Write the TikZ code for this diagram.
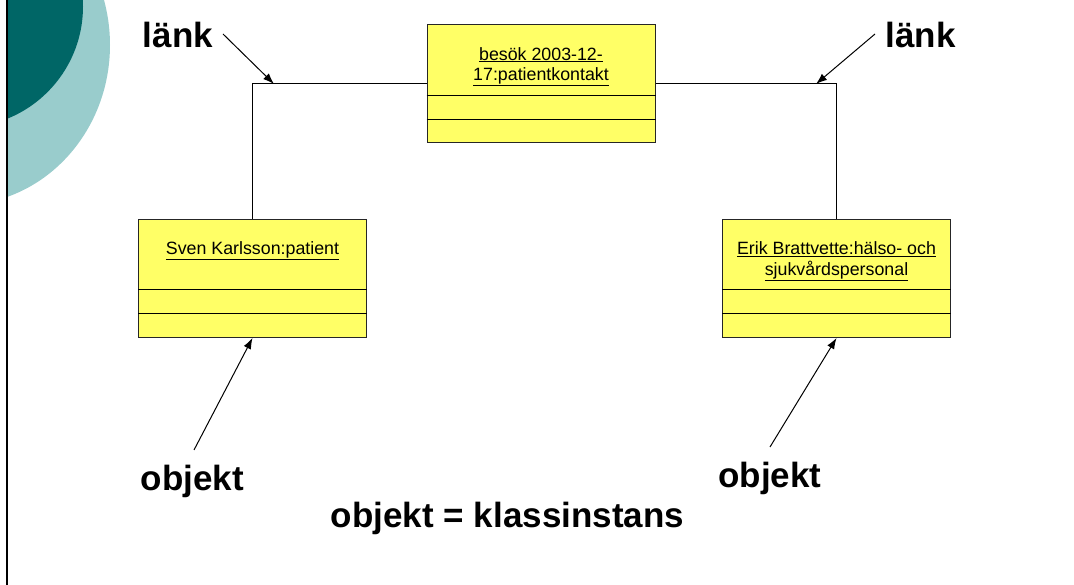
\documentclass[tikz,border=0pt]{standalone}
\usepackage{fontspec}
\setmainfont{Liberation Sans}
\usepackage{tikz}
\usetikzlibrary{arrows.meta,positioning,calc}

\definecolor{umlyellow}{RGB}{255,255,102}
\definecolor{tealdark}{RGB}{0,102,102}
\definecolor{teallight}{RGB}{153,204,204}

\begin{document}
\begin{tikzpicture}[
    x=1pt, y=-1pt,
    objbox/.style={draw=black!85, fill=umlyellow, line width=1pt, inner sep=0pt,
                   minimum width=228pt, minimum height=118pt},
    divider/.style={draw=black, line width=1pt},
    objname/.style={font=\fontsize{17.8}{20.5}\selectfont, align=center, inner sep=0pt, anchor=north},
    biglabel/.style={font=\fontsize{35}{40}\selectfont\bfseries, inner sep=0pt, anchor=base},
    link/.style={draw=black, line width=1pt},
    pointer/.style={draw=black, line width=1pt, -{Latex[length=11pt,width=8pt]}},
]
\useasboundingbox (0,0) rectangle (1074,585);

% bakgrund
\begin{scope}
  \clip (7.5,0) rectangle (200,585);
  \fill[teallight] (-40,45) ellipse [x radius=150, y radius=160];
  \fill[tealdark] (-38,6.5) circle [radius=121];
\end{scope}
\draw[line width=1.5pt] (7,0) -- (7,585);

% objekt
\node[objbox] (besok) at (541,84) {};
\node[objbox] (sven) at (252.5,278.5) {};
\node[objbox] (erik) at (836.5,278.5) {};
\foreach \b in {besok,sven,erik} {
  \draw[divider] ([yshift=24pt]\b.south west) -- ([yshift=24pt]\b.south east);
  \draw[divider] ([yshift=48pt]\b.south west) -- ([yshift=48pt]\b.south east);
}
\node[objname] (besokN) at ([yshift=-22.5pt]besok.north) {\underline{besök 2003-12-}\\\underline{17:patientkontakt}};
\node[objname] (svenN) at ([yshift=-22.5pt]sven.north) {\underline{Sven Karlsson:patient}};
\node[objname] (erikN) at ([yshift=-22.5pt]erik.north) {\underline{Erik Brattvette:hälso- och}\\\underline{sjukvårdspersonal}};

% länkar
\draw[link] (besok.west) -| (sven.north);
\draw[link] (besok.east) -| (erik.north);

% etiketter
\node[biglabel] (lankV) at (178,47.5) {länk};
\node[biglabel] (lankH) at (920.5,47.5) {länk};
\node[biglabel] (objV) at (192.5,490) {objekt};
\node[biglabel] (objH) at (770,487) {objekt};
\node[biglabel] (defn) at (507.5,527) {objekt = klassinstans};

% pilar
\coordinate (lankVtail) at (223,34);
\coordinate (lankVhead) at (274,84);
\coordinate (lankHtail) at (875,34);
\coordinate (lankHhead) at (816,84);
\coordinate (objVtail) at (194,450);
\coordinate (objHtail) at (770,447);
\draw[pointer] (lankVtail) -- (lankVhead);
\draw[pointer] (lankHtail) -- (lankHhead);
\draw[pointer] (objVtail) -- (sven.south);
\draw[pointer] (objHtail) -- (erik.south);
\end{tikzpicture}
\end{document}
